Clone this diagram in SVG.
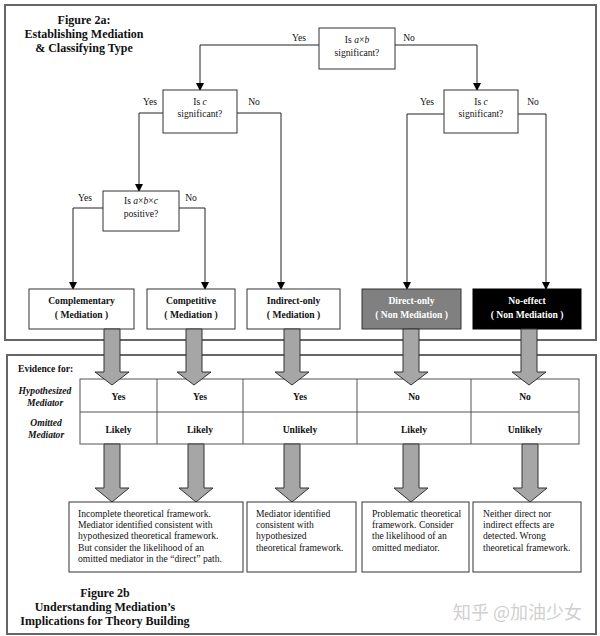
<svg xmlns="http://www.w3.org/2000/svg" width="600" height="636" viewBox="0 0 600 636">
<defs>
<marker id="ah" markerWidth="8" markerHeight="8" refX="7" refY="4" orient="auto" markerUnits="userSpaceOnUse">
<path d="M0,0 L8,4 L0,8 Z" fill="#000"/>
</marker>
<style>
text{font-family:"Liberation Serif","Times New Roman",serif;fill:#111}
.t{font-size:12px;font-weight:bold;text-anchor:middle}
.q{font-size:9.6px;text-anchor:middle}
.yn{font-size:9.6px;text-anchor:middle}
.bl{font-size:9.6px;font-weight:bold;text-anchor:middle}
.wt{fill:#fff}
.rl{font-size:9.6px;font-weight:bold;font-style:italic;text-anchor:middle}
.bx{font-size:9.6px}
.frame{fill:none;stroke:#666;stroke-width:2}
.node{fill:#fff;stroke:#333;stroke-width:1}
.conn{fill:none;stroke:#222;stroke-width:1;marker-end:url(#ah)}
.fat{fill:#a6a6a6;stroke:#333;stroke-width:1}
.grid{fill:none;stroke:#555;stroke-width:1}
</style>
</defs>
<rect class="frame" x="5" y="5" width="591" height="335"/>
<rect class="frame" x="7" y="355" width="589" height="279"/>
<g id="title2a">
<text class="t" x="84" y="24">Figure 2a:</text>
<text class="t" x="84" y="38">Establishing Mediation</text>
<text class="t" x="84" y="52">&amp; Classifying Type</text>
</g>
<g id="connectors">
<polyline class="conn" points="319,45 200,45 200,90"/>
<polyline class="conn" points="395,45 477,45 477,90"/>
<polyline class="conn" points="163,113 139,113 139,191"/>
<polyline class="conn" points="237,113 281,113 281,289"/>
<polyline class="conn" points="444,114 407,114 407,289"/>
<polyline class="conn" points="518,114 546,114 546,289"/>
<polyline class="conn" points="103,208 73,208 73,289"/>
<polyline class="conn" points="179,208 205,208 205,289"/>
<text class="yn" x="299" y="41">Yes</text>
<text class="yn" x="409" y="41">No</text>
<text class="yn" x="150" y="105">Yes</text>
<text class="yn" x="254" y="105">No</text>
<text class="yn" x="427" y="105">Yes</text>
<text class="yn" x="533" y="105">No</text>
<text class="yn" x="85" y="201">Yes</text>
<text class="yn" x="191" y="201">No</text>
</g>
<g id="q-ab">
<rect class="node" x="319" y="28" width="76" height="41"/>
<text class="q" x="357" y="43">Is <tspan font-style="italic">a</tspan>×<tspan font-style="italic">b</tspan></text>
<text class="q" x="357" y="56">significant?</text>
</g>
<g id="q-c-left">
<rect class="node" x="163" y="90" width="74" height="43"/>
<text class="q" x="200" y="104.5">Is <tspan font-style="italic">c</tspan></text>
<text class="q" x="200" y="117">significant?</text>
</g>
<g id="q-c-right">
<rect class="node" x="444" y="90" width="74" height="43"/>
<text class="q" x="481" y="104.5">Is <tspan font-style="italic">c</tspan></text>
<text class="q" x="481" y="117">significant?</text>
</g>
<g id="q-abc">
<rect class="node" x="103" y="191" width="76" height="40"/>
<text class="q" x="141" y="203.5">Is <tspan font-style="italic">a</tspan>×<tspan font-style="italic">b</tspan>×<tspan font-style="italic">c</tspan></text>
<text class="q" x="141" y="216.5">positive?</text>
</g>
<g id="complementary">
<rect class="node" x="29" y="289" width="105" height="40"/>
<text class="bl" x="81.5" y="303.5">Complementary</text>
<text class="bl" x="81.5" y="317.5">( Mediation )</text>
</g>
<g id="competitive">
<rect class="node" x="147" y="289" width="88" height="40"/>
<text class="bl" x="191" y="303.5">Competitive</text>
<text class="bl" x="191" y="317.5">( Mediation )</text>
</g>
<g id="indirect-only">
<rect class="node" x="247" y="289" width="93" height="40"/>
<text class="bl" x="293.5" y="303.5">Indirect-only</text>
<text class="bl" x="293.5" y="317.5">( Mediation )</text>
</g>
<g id="direct-only">
<rect x="362" y="289" width="99" height="40" fill="#808080" stroke="#333"/>
<text class="bl wt" x="411.5" y="303.5">Direct-only</text>
<text class="bl wt" x="411.5" y="317.5">( Non Mediation )</text>
</g>
<g id="no-effect">
<rect x="473" y="289" width="108" height="40" fill="#000" stroke="#000"/>
<text class="bl wt" x="527" y="303.5">No-effect</text>
<text class="bl wt" x="527" y="317.5">( Non Mediation )</text>
</g>
<g id="evidence-table">
<text x="18" y="372" style="font-size:9.6px;font-weight:bold">Evidence for:</text>
<rect class="grid" x="80" y="379" width="499" height="65"/>
<line class="grid" x1="80" y1="412" x2="579" y2="412"/>
<line class="grid" x1="157" y1="379" x2="157" y2="444"/>
<line class="grid" x1="243" y1="379" x2="243" y2="444"/>
<line class="grid" x1="357" y1="379" x2="357" y2="444"/>
<line class="grid" x1="471" y1="379" x2="471" y2="444"/>
<text class="rl" x="45" y="394">Hypothesized</text>
<text class="rl" x="45" y="405.5">Mediator</text>
<text class="rl" x="46" y="426">Omitted</text>
<text class="rl" x="46" y="437.5">Mediator</text>
<text class="bl" x="118.5" y="399.5">Yes</text>
<text class="bl" x="200" y="399.5">Yes</text>
<text class="bl" x="300" y="399.5">Yes</text>
<text class="bl" x="414" y="399.5">No</text>
<text class="bl" x="525" y="399.5">No</text>
<text class="bl" x="118.5" y="432.5">Likely</text>
<text class="bl" x="200" y="432.5">Likely</text>
<text class="bl" x="300" y="432.5">Unlikely</text>
<text class="bl" x="414" y="432.5">Likely</text>
<text class="bl" x="525" y="432.5">Unlikely</text>
</g>
<g id="fat-arrows">
<polygon class="fat" points="104,329 120,329 120,372 129,372 112,385 95,372 104,372"/>
<polygon class="fat" points="186,329 202,329 202,372 211,372 194,385 177,372 186,372"/>
<polygon class="fat" points="284,329 300,329 300,372 309,372 292,385 275,372 284,372"/>
<polygon class="fat" points="403,329 419,329 419,372 428,372 411,385 394,372 403,372"/>
<polygon class="fat" points="521,329 537,329 537,372 546,372 529,385 512,372 521,372"/>
<polygon class="fat" points="104,444 120,444 120,488 129,488 112,502 95,488 104,488"/>
<polygon class="fat" points="188,444 204,444 204,488 213,488 196,502 179,488 188,488"/>
<polygon class="fat" points="284,444 300,444 300,488 309,488 292,502 275,488 284,488"/>
<polygon class="fat" points="403,444 419,444 419,488 428,488 411,502 394,488 403,488"/>
<polygon class="fat" points="522,444 538,444 538,488 547,488 530,502 513,488 522,488"/>
</g>
<g id="box-complementary-competitive">
<rect class="node" x="69" y="502" width="174" height="70"/>
<text class="bx" x="78" y="517">Incomplete theoretical framework.</text>
<text class="bx" x="78" y="528">Mediator identified consistent with</text>
<text class="bx" x="78" y="539">hypothesized theoretical framework.</text>
<text class="bx" x="78" y="550.5">But consider the likelihood of an</text>
<text class="bx" x="78" y="562">omitted mediator in the “direct” path.</text>
</g>
<g id="box-indirect">
<rect class="node" x="247" y="502" width="109" height="70"/>
<text class="bx" x="256" y="517">Mediator identified</text>
<text class="bx" x="256" y="528">consistent with</text>
<text class="bx" x="256" y="539">hypothesized</text>
<text class="bx" x="256" y="550.5">theoretical framework.</text>
</g>
<g id="box-direct">
<rect class="node" x="362" y="502" width="107" height="70"/>
<text class="bx" x="372" y="517">Problematic theoretical</text>
<text class="bx" x="372" y="528">framework. Consider</text>
<text class="bx" x="372" y="539">the likelihood of an</text>
<text class="bx" x="372" y="550.5">omitted mediator.</text>
</g>
<g id="box-noeffect">
<rect class="node" x="473" y="502" width="108" height="70"/>
<text class="bx" x="483" y="517">Neither direct nor</text>
<text class="bx" x="483" y="528">indirect effects are</text>
<text class="bx" x="483" y="539">detected. Wrong</text>
<text class="bx" x="483" y="550.5">theoretical framework.</text>
</g>
<g id="title2b">
<text class="t" x="105" y="597">Figure 2b</text>
<text class="t" x="105" y="611">Understanding Mediation’s</text>
<text class="t" x="105" y="625">Implications for Theory Building</text>
</g>
<text x="453" y="619" style="font-family:'Noto Sans CJK SC',sans-serif;font-size:18px;fill:#d0d0d0">知乎 @加油少女</text>
</svg>
